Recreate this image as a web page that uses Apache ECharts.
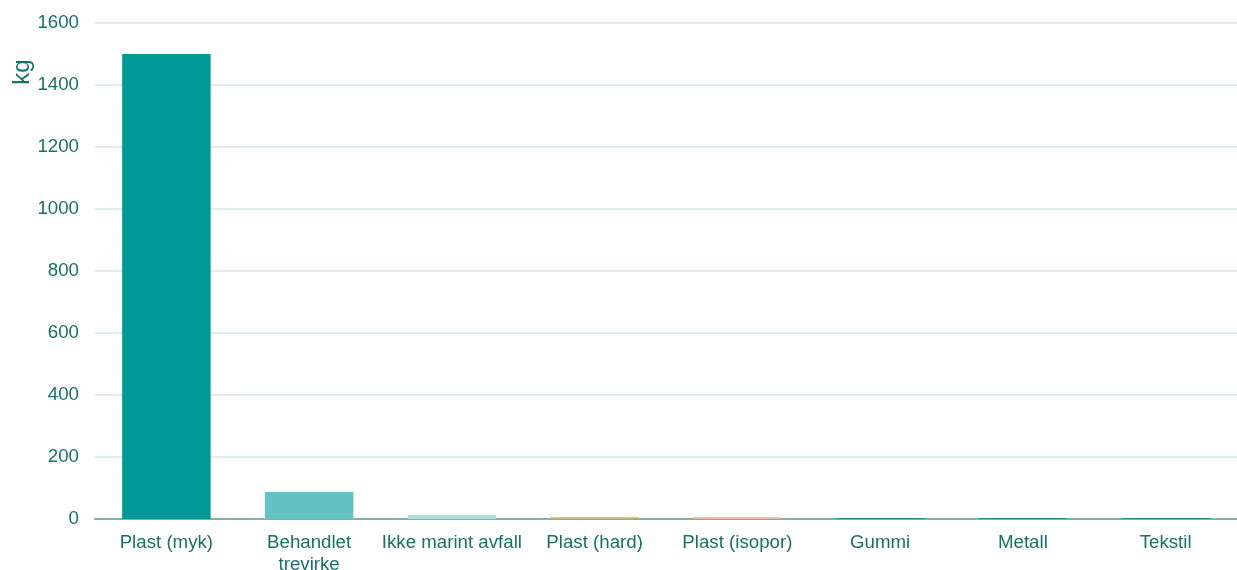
<!DOCTYPE html>
<html><head><meta charset="utf-8">
<script src="https://cdn.jsdelivr.net/npm/echarts@6/dist/echarts.min.js"></script>
<style>html,body{margin:0;padding:0;background:#fff}#c{width:1237px;height:570px}</style>
</head><body><div id="c"></div>
<script>
const categories = ["Plast (myk)", "Behandlet\ntrevirke", "Ikke marint avfall", "Plast (hard)", "Plast (isopor)", "Gummi", "Metall", "Tekstil"];
const values = [1500, 87, 13, 6, 6, 3, 3, 3];
const barColors = ["#009a96", "#64c3c1", "#b0dfe0", "#c6b472", "#ebb5a0", "#1f8f87", "#1f8f87", "#1f8f87"];
const yTicks = [0, 200, 400, 600, 800, 1000, 1200, 1400, 1600];
const yName = "kg";

const textColor = "#17706a";
const font = 'Liberation Sans, Arial';
const chart = echarts.init(document.getElementById('c'));
chart.setOption({
  animation: false,
  grid: { left: 95, right: 0, top: 23, bottom: 51, containLabel: false, outerBoundsMode: 'none' },
  graphic: [{
    type: 'text', x: 22, y: 72, rotation: Math.PI / 2,
    style: { text: yName, fill: textColor, font: '24px ' + font, textAlign: 'center', textVerticalAlign: 'middle' }
  }],
  xAxis: {
    type: 'category', data: categories,
    axisLine: { lineStyle: { color: '#7fb1ab', width: 2 } },
    axisTick: { show: false },
    axisLabel: { color: textColor, fontFamily: font, fontSize: 18.7, margin: 13, lineHeight: 22, interval: 0 }
  },
  yAxis: {
    type: 'value', min: yTicks[0], max: yTicks[yTicks.length-1], interval: 200,
    axisLine: { show: false }, axisTick: { show: false },
    axisLabel: { color: textColor, fontFamily: font, fontSize: 18.7, margin: 16, formatter: v => String(v) },
    splitLine: { lineStyle: { color: '#d6e9e7', width: 1.5 } }
  },
  series: [{
    type: 'bar', barWidth: '62%',
    data: values.map((v, i) => ({ value: v, itemStyle: { color: barColors[i] } }))
  }]
});
</script></body></html>
